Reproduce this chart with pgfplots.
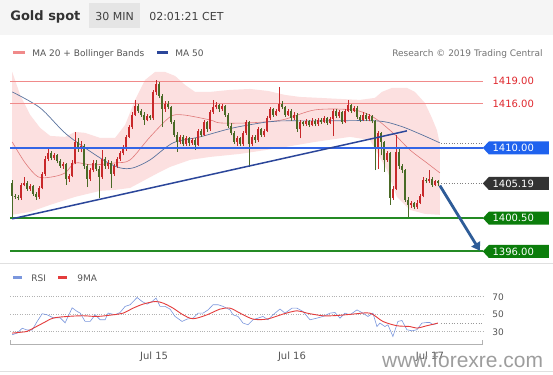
\documentclass[border=0pt]{standalone}
\usepackage{pgfplots}
\pgfplotsset{compat=1.18}
\usepackage{pgfplotstable}
\usetikzlibrary{arrows.meta}
\usepackage{fontspec}
\setmainfont{DejaVu Sans}
\newfontfamily\wmfont{Liberation Sans}

\definecolor{cred}{HTML}{C8282A}
\definecolor{cgreen}{HTML}{4A6A26}
\definecolor{bandpink}{HTML}{FCE0E0}
\definecolor{ma20}{HTML}{E07A7A}
\definecolor{ma50}{HTML}{5A739E}
\definecolor{lvlred}{HTML}{F08A8A}
\definecolor{lvltxt}{HTML}{E0282E}
\definecolor{lvlblue}{HTML}{3366E6}
\definecolor{boxblue}{HTML}{1F62EE}
\definecolor{lvlgreen}{HTML}{248A24}
\definecolor{boxgreen}{HTML}{0B7D0B}
\definecolor{boxdark}{HTML}{333333}
\definecolor{trend}{HTML}{2B469A}
\definecolor{arrowc}{HTML}{2E5C98}
\definecolor{rsiblue}{HTML}{7B97DD}
\definecolor{rsired}{HTML}{E43C3C}
\definecolor{txtgray}{HTML}{555555}

\pgfplotstableread{
x o h l c
12 1405.3 1405.6 1400.5 1403.5
15 1403.5 1403.8 1403.1 1403.4
18 1403.4 1403.6 1402.9 1403.2
21 1403.2 1405.3 1403.0 1405.0
24 1405.0 1406.0 1404.8 1405.3
27 1405.3 1405.5 1404.2 1404.5
30 1404.5 1405.1 1404.2 1404.8
33 1404.8 1405.0 1403.5 1403.8
36 1403.8 1404.0 1403.0 1403.3
39 1403.3 1404.9 1403.1 1404.6
42 1404.6 1406.8 1404.4 1406.5
45 1406.5 1408.9 1406.2 1408.5
48 1408.5 1410.0 1408.2 1409.3
51 1409.3 1409.6 1408.3 1408.6
54 1408.6 1409.3 1408.4 1409.0
57 1409.0 1409.2 1407.9 1408.2
60 1408.2 1408.5 1407.3 1407.6
63 1407.6 1408.1 1407.2 1407.8
66 1407.8 1408.0 1405.0 1405.8
69 1405.8 1406.5 1405.4 1406.2
72 1406.2 1408.3 1406.0 1408.0
75 1408.0 1412.2 1407.8 1410.8
78 1410.8 1411.4 1409.5 1409.8
81 1409.8 1410.9 1409.4 1410.3
84 1410.3 1410.5 1407.2 1407.5
87 1407.5 1407.8 1404.7 1405.8
90 1405.8 1407.3 1405.5 1407.0
93 1407.0 1408.4 1406.7 1408.0
96 1408.0 1408.3 1406.9 1407.2
99 1407.2 1407.5 1403.2 1406.0
102 1406.0 1409.7 1405.8 1408.5
105 1408.5 1408.8 1407.2 1407.5
108 1407.5 1408.4 1407.2 1408.0
111 1408.0 1408.2 1404.6 1406.5
114 1406.5 1407.8 1406.2 1407.5
117 1407.5 1408.8 1407.3 1408.5
120 1408.5 1409.6 1408.2 1409.3
123 1409.3 1410.4 1409.0 1409.8
126 1409.8 1411.8 1409.6 1411.5
129 1411.5 1413.1 1411.3 1412.8
132 1412.8 1414.8 1412.6 1414.5
135 1414.5 1416.5 1414.3 1415.7
138 1415.7 1416.0 1414.7 1415.0
141 1415.0 1415.3 1414.2 1414.5
144 1414.5 1414.8 1413.1 1413.8
147 1413.8 1414.6 1413.6 1414.3
150 1414.3 1414.5 1413.8 1414.0
153 1414.0 1417.8 1413.8 1417.5
156 1417.5 1419.2 1417.2 1418.6
159 1418.6 1418.9 1416.7 1417.0
162 1417.0 1417.3 1412.8 1415.2
165 1415.2 1416.3 1414.9 1416.0
168 1416.0 1416.3 1415.2 1415.5
171 1415.5 1415.7 1413.2 1413.5
174 1413.5 1413.8 1411.5 1411.8
177 1411.8 1412.1 1409.5 1410.8
180 1410.8 1411.8 1410.5 1411.5
183 1411.5 1411.7 1410.2 1410.5
186 1410.5 1411.6 1410.3 1411.3
189 1411.3 1411.5 1410.2 1410.6
192 1410.6 1411.4 1410.4 1411.0
195 1411.0 1411.3 1409.7 1410.4
198 1410.4 1412.6 1410.2 1412.3
201 1412.3 1412.6 1411.5 1411.8
204 1411.8 1413.8 1411.6 1413.5
207 1413.5 1413.7 1412.2 1412.5
210 1412.5 1415.1 1412.3 1414.8
213 1414.8 1416.5 1414.6 1415.5
216 1415.5 1416.2 1415.2 1415.8
219 1415.8 1416.0 1414.9 1415.2
222 1415.2 1415.9 1415.0 1415.6
225 1415.6 1415.8 1414.2 1414.5
228 1414.5 1414.7 1412.7 1413.0
231 1413.0 1413.3 1411.7 1412.0
234 1412.0 1412.3 1410.5 1410.8
237 1410.8 1411.6 1410.3 1411.3
240 1411.3 1411.5 1410.2 1410.5
243 1410.5 1412.3 1410.3 1412.0
246 1412.0 1413.8 1411.8 1413.5
249 1413.5 1413.7 1407.4 1410.5
252 1410.5 1411.8 1410.2 1411.5
255 1411.5 1411.7 1410.7 1411.0
258 1411.0 1412.8 1410.8 1412.5
261 1412.5 1412.7 1411.5 1411.8
264 1411.8 1412.6 1411.5 1412.3
267 1412.3 1414.3 1412.1 1414.0
270 1414.0 1415.5 1413.8 1415.2
273 1415.2 1415.4 1414.2 1414.5
276 1414.5 1415.3 1414.3 1415.0
279 1415.0 1418.2 1414.8 1416.0
282 1416.0 1416.3 1415.2 1415.5
285 1415.5 1415.7 1414.2 1414.5
288 1414.5 1415.3 1414.3 1415.0
291 1415.0 1415.2 1413.7 1414.0
294 1414.0 1414.8 1413.8 1414.5
297 1414.5 1414.7 1412.2 1412.5
300 1412.5 1413.8 1411.3 1413.5
303 1413.5 1413.7 1412.9 1413.2
306 1413.2 1413.9 1413.0 1413.6
309 1413.6 1413.8 1412.8 1413.1
312 1413.1 1414.0 1412.9 1413.7
315 1413.7 1413.9 1412.9 1413.2
318 1413.2 1414.1 1413.0 1413.8
321 1413.8 1414.0 1413.2 1413.5
324 1413.5 1414.3 1413.3 1414.0
327 1414.0 1414.2 1413.1 1413.4
330 1413.4 1414.2 1413.2 1413.9
333 1413.9 1415.3 1411.6 1415.0
336 1415.0 1415.2 1414.0 1414.3
339 1414.3 1415.1 1414.1 1414.8
342 1414.8 1415.0 1413.2 1413.5
345 1413.5 1415.3 1413.3 1415.0
348 1415.0 1416.5 1414.8 1415.8
351 1415.8 1416.0 1414.7 1415.0
354 1415.0 1415.7 1414.8 1415.4
357 1415.4 1415.6 1413.9 1414.2
360 1414.2 1414.4 1413.5 1413.8
363 1413.8 1414.8 1413.6 1414.5
366 1414.5 1414.7 1413.6 1413.9
369 1413.9 1414.6 1413.7 1414.3
372 1414.3 1414.5 1413.3 1413.6
375 1413.6 1413.8 1407.0 1409.8
378 1409.8 1412.3 1407.2 1412.0
381 1412.0 1412.2 1409.0 1410.8
384 1410.8 1411.0 1406.8 1408.4
387 1408.4 1409.6 1408.1 1409.3
390 1409.3 1409.5 1402.3 1403.2
393 1403.2 1404.8 1403.0 1404.5
396 1404.5 1411.8 1404.3 1409.5
399 1409.5 1409.8 1407.2 1407.5
402 1407.5 1407.8 1406.6 1407.0
405 1407.0 1407.2 1402.7 1403.0
408 1403.0 1403.3 1400.5 1402.3
411 1402.3 1402.8 1401.9 1402.5
414 1402.5 1402.7 1401.7 1402.0
417 1402.0 1402.9 1401.8 1402.6
420 1402.6 1403.8 1402.4 1403.5
423 1403.5 1406.0 1403.3 1405.7
426 1405.7 1405.9 1405.2 1405.5
429 1405.5 1407.0 1405.3 1405.8
432 1405.8 1406.0 1404.7 1405.0
435 1405.0 1405.7 1404.8 1405.5
438 1405.5 1405.6 1404.9 1405.19
}\candles

\newcommand{\lvlbox}[3]{%
  \fill[#2] (axis cs:483,#1) -- ++(6pt,6.5pt) -- ++(60pt,0pt) -- ++(0pt,-13pt) -- ++(-60pt,0pt) -- cycle;
  \node[anchor=west, text=white, font=\fontsize{10}{12}\selectfont, inner sep=0pt] at ([xshift=9.5pt]axis cs:483,#1) {#3};
}

\begin{document}
\begin{tikzpicture}
\fill[white] (0,0) rectangle (553pt,375pt);
\fill[black!4] (0,340pt) rectangle (553pt,375pt);
\fill[black!10] (89pt,347pt) rectangle (140pt,372pt);
\draw[black!12] (0,112pt) -- (553pt,112pt);
\draw[black!12] (0,4pt) -- (553pt,4pt);

% main price chart
\begin{axis}[
  at={(10pt,113pt)}, anchor=south west, scale only axis,
  width=473pt, height=200pt,
  xmin=10, xmax=483, ymin=1394.595, ymax=1421.622,
  hide axis, clip=false,
  colormap={cndl}{color=(cgreen) color=(cred)},
  point meta min=0, point meta max=1,
]
% Bollinger band (upper edge forward, lower edge back)
\addplot[fill=bandpink, draw=none] coordinates {
 (12,1420.27) (20,1417.16) (30,1414.46) (40,1412.70) (50,1411.62) (65,1411.49)
 (75,1412.16) (85,1412.03) (100,1411.35) (115,1411.35) (125,1413.11) (135,1416.49)
 (145,1419.19) (155,1420.27) (165,1420.27) (175,1419.73) (185,1418.51) (195,1417.57)
 (210,1417.57) (230,1417.84) (250,1417.97) (268,1417.70) (285,1417.16) (300,1416.89)
 (320,1416.76) (340,1416.62) (360,1416.49) (375,1416.76) (382,1417.57) (392,1418.11)
 (407,1418.11) (415,1417.57) (425,1416.08) (432,1414.05) (437,1412.4) (440,1410.5)
 (440,1400.95) (425,1401.08) (410,1401.62) (397,1403.38) (387,1407.03) (370,1411.08)
 (350,1411.49) (315,1410.81) (280,1410.00) (240,1409.19) (210,1408.78) (190,1408.38)
 (170,1407.43) (160,1406.76) (145,1405.68) (130,1404.59) (115,1404.32) (100,1404.19)
 (75,1403.38) (50,1402.30) (30,1401.35) (12,1400.95)} -- cycle;

\addplot[draw=ma20, line width=0.6pt, smooth] coordinates {
 (12,1410.81) (25,1407.97) (38,1406.08) (52,1406.08) (65,1406.62) (75,1407.97)
 (92,1407.70) (115,1407.97) (130,1408.38) (150,1411.49) (170,1414.19) (183,1414.46)
 (210,1413.78) (220,1413.38) (248,1413.38) (282,1413.78) (315,1415.14) (353,1415.14)
 (373,1414.19) (393,1412.03) (410,1409.73) (427,1407.97) (440,1406.62)};
\addplot[draw=ma50, line width=0.7pt, smooth] coordinates {
 (12,1417.57) (40,1415.41) (67,1411.76) (103,1408.38) (120,1407.30) (133,1407.30)
 (150,1408.38) (173,1410.68) (200,1411.49) (233,1412.70) (267,1413.51) (280,1413.65)
 (320,1413.65) (377,1413.65) (400,1412.97) (420,1411.89) (440,1410.68)};

% horizontal levels
\draw[lvlred, line width=0.9pt] (axis cs:10,1419) -- (axis cs:483,1419);
\draw[lvlred, line width=0.9pt] (axis cs:10,1416) -- (axis cs:483,1416);

% candles: wicks and bodies
\addplot[quiver={u=0, v=\thisrow{h}-\thisrow{l}, colored=mapped color},
  line width=0.7pt, point meta={\thisrow{c}>\thisrow{o}}]
  table[x=x, y=l] {\candles};
\addplot[quiver={u=0, v=\thisrow{c}-\thisrow{o}, colored=mapped color},
  line width=2.1pt, point meta={\thisrow{c}>\thisrow{o}}]
  table[x=x, y=o] {\candles};

\draw[lvlblue, line width=1.4pt] (axis cs:10,1410) -- (axis cs:483,1410);
\draw[lvlgreen, line width=2pt] (axis cs:10,1400.5) -- (axis cs:483,1400.5);
\draw[lvlgreen, line width=2pt] (axis cs:10,1396) -- (axis cs:483,1396);
\draw[gray, dotted, line width=0.7pt] (axis cs:441,1410.68) -- (axis cs:483,1410.68);
\draw[gray, dotted, line width=0.7pt] (axis cs:441,1405.19) -- (axis cs:483,1405.19);

% trend line and projection arrow
\addplot[draw=trend, line width=1.5pt] coordinates {(12,1400.41) (407,1412.30)};
\addplot[draw=arrowc, fill=arrowc, line width=2.8pt, -{Triangle[length=8pt,width=10pt]}] coordinates {(440,1404.9) (480,1396.1)};

\node[anchor=west, text=lvltxt, font=\fontsize{10}{12}\selectfont, inner sep=0pt] at ([xshift=9.5pt]axis cs:483,1419) {1419.00};
\node[anchor=west, text=lvltxt, font=\fontsize{10}{12}\selectfont, inner sep=0pt] at ([xshift=9.5pt]axis cs:483,1416) {1416.00};
\lvlbox{1410}{boxblue}{1410.00}
\lvlbox{1405.19}{boxdark}{1405.19}
\lvlbox{1400.5}{boxgreen}{1400.50}
\lvlbox{1396}{boxgreen}{1396.00}
\end{axis}

% RSI panel
\begin{axis}[
  at={(10pt,30pt)}, anchor=south west, scale only axis,
  width=473pt, height=62pt,
  xmin=10, xmax=483, ymin=15.14, ymax=86,
  axis x line*=bottom, axis y line*=right,
  y axis line style={draw=none},
  x axis line style={black!30, line width=0.8pt},
  major tick length=0pt,
  ytick={30,50,70},
  xtick={154,292,430}, xticklabels={Jul 15,Jul 16,Jul 17},
  ymajorgrids, grid style={black!30, dotted, line width=0.7pt},
  /pgf/number format/assume math mode=true,
  yticklabel style={font=\fontsize{9}{10}\selectfont, text=txtgray, xshift=6pt},
  xticklabel style={font=\fontsize{10}{12}\selectfont, text=txtgray, yshift=-4pt},
  clip=false,
]
\addplot[draw=rsiblue, line width=0.6pt] coordinates {
 (12,26.6) (17,28.5) (22,34) (27,32) (32,32) (37,41.8) (42,50.6) (47,49.4) (53,46)
 (60,46) (65,40.3) (72,57.4) (77,53.2) (80,51.4) (85,41.8) (90,41.8) (95,49.4)
 (100,43.7) (105,43.7) (108,51.4) (115,49.4) (120,52.1) (125,59) (130,60.9) (137,69.2)
 (142,64.6) (147,61.6) (152,64.6) (156,68.5) (160,59) (165,59) (170,55.9) (175,47.5)
 (182,41.8) (187,44.5) (193,45.6) (198,51.3) (203,51.3) (208,55) (213,60.9) (218,60.9)
 (223,59) (230,55) (233,49.4) (238,47.5) (243,39.9) (248,38) (253,43.7) (258,45.6)
 (263,47.5) (268,43.7) (273,49.4) (280,56) (285,51.3) (292,57) (297,57) (303,53.2)
 (310,43.7) (317,45.6) (323,47.5) (330,51.3) (335,52) (340,45.6) (345,51.3) (350,49.4)
 (357,55) (363,51.3) (368,47.5) (373,51.3) (377,36) (380,39.9) (385,36) (388,38)
 (393,24.6) (398,41.8) (402,42.9) (407,32.3) (412,31.1) (417,32.3) (422,39.9)
 (427,40.6) (430,40.6) (433,38) (438,39.9)};
\addplot[draw=rsired, line width=0.9pt, smooth] coordinates {
 (12,28.5) (27,30.4) (33,34) (43,40) (53,45.6) (67,47.5) (83,48.3) (97,47.5)
 (113,49.4) (123,51.3) (133,57) (143,61.6) (155,64.6) (163,62.8) (173,57) (183,49.4)
 (193,44.9) (207,49.4) (220,55.9) (230,57) (240,51.3) (253,44.5) (267,44.5) (283,50.2)
 (297,54) (307,51.3) (323,48.3) (337,48.6) (353,50.2) (370,51.3) (383,41.8) (397,36.9)
 (410,36) (417,34.2) (427,36.9) (438,39.9)};
\addplot[draw=black!40, dotted, line width=0.7pt] coordinates {(441,39.9) (483,39.9)};
\draw[black!30, line width=0.8pt] (axis cs:10,15.14) -- ++(0pt,5pt);
\draw[black!30, line width=0.8pt] (axis cs:483,15.14) -- ++(0pt,5pt);
\end{axis}

% header
\node[anchor=base west, inner sep=0pt, text=black!80, font=\fontsize{13}{15}\selectfont\bfseries] at (10pt,354pt) {Gold spot};
\node[anchor=base, inner sep=0pt, text=black!75, font=\fontsize{11}{13}\selectfont] at (114.5pt,354pt) {30 MIN};
\node[anchor=base west, inner sep=0pt, text=black!75, font=\fontsize{11}{13}\selectfont] at (149pt,354pt) {02:01:21 CET};

% legend row
\fill[lvlred] (13pt,320.5pt) rectangle (25pt,324pt);
\node[anchor=base west, inner sep=0pt, text=txtgray, font=\fontsize{9}{11}\selectfont] at (32pt,318.5pt) {MA 20 + Bollinger Bands};
\fill[trend] (157pt,320.5pt) rectangle (168pt,324pt);
\node[anchor=base west, inner sep=0pt, text=txtgray, font=\fontsize{9}{11}\selectfont] at (175pt,318.5pt) {MA 50};
\node[anchor=base east, inner sep=0pt, text=black!55, font=\fontsize{9}{11}\selectfont] at (543pt,318.5pt) {Research © 2019 Trading Central};

% RSI legend
\fill[rsiblue] (13pt,95.5pt) rectangle (22pt,99pt);
\node[anchor=base west, inner sep=0pt, text=txtgray, font=\fontsize{9}{11}\selectfont] at (31pt,93.5pt) {RSI};
\fill[rsired] (58pt,95.5pt) rectangle (67pt,99pt);
\node[anchor=base west, inner sep=0pt, text=txtgray, font=\fontsize{9}{11}\selectfont] at (77pt,93.5pt) {9MA};

% watermark
\node[anchor=base west, inner sep=0pt, text=black!45, opacity=0.85, font=\wmfont\fontsize{21}{24}\selectfont] at (382pt,7pt) {www.forexre.com};
\end{tikzpicture}
\end{document}
